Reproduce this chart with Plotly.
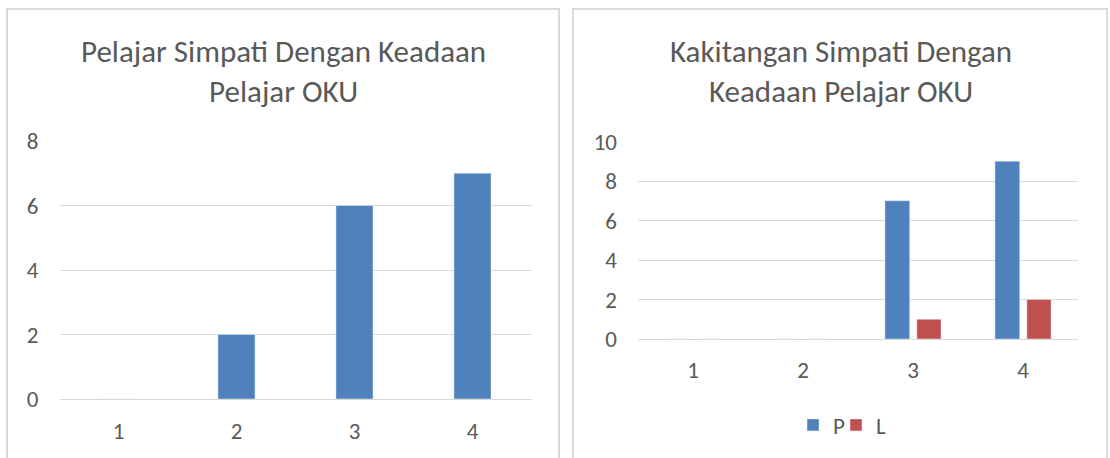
import plotly.graph_objects as go

categories = ["1", "2", "3", "4"]
pelajar_values = [0, 2, 6, 7]
kakitangan_P = [0, 0, 7, 9]
kakitangan_L = [0, 0, 1, 2]
series_names = ["P", "L"]
title_left = "Pelajar Simpati Dengan Keadaan<br>Pelajar OKU"
title_right = "Kakitangan Simpati Dengan<br>Keadaan Pelajar OKU"

W, H = 1110, 458
BLUE = "#4F81BD"
RED = "#C0504D"
TXT = "#595959"
GRID = "#D9D9D9"
FONT = "Carlito, Calibri, 'Open Sans', sans-serif"

def px(x):
    return x / W

def py(y):
    return 1 - y / H

fig = go.Figure()
fig.add_trace(go.Bar(x=categories, y=pelajar_values, marker_color=BLUE,
                     width=0.314, showlegend=False, xaxis="x", yaxis="y"))
fig.add_trace(go.Bar(x=categories, y=kakitangan_P, name=series_names[0], marker_color=BLUE,
                     width=0.225, offset=-0.255, xaxis="x2", yaxis="y2", legend="legend"))
fig.add_trace(go.Bar(x=categories, y=kakitangan_L, name=series_names[1], marker_color=RED,
                     width=0.22, offset=0.035, xaxis="x2", yaxis="y2", legend="legend2"))

axis_common = dict(showline=False, ticks="", tickfont=dict(family=FONT, size=23, color=TXT))
legend_common = dict(orientation="h", xanchor="left", y=py(425), yanchor="middle",
                     font=dict(family=FONT, size=23, color=TXT), itemwidth=30,
                     bgcolor="rgba(0,0,0,0)", borderwidth=0)
fig.update_layout(
    width=W, height=H,
    margin=dict(l=0, r=0, t=0, b=0, autoexpand=False),
    paper_bgcolor="white", plot_bgcolor="white",
    font=dict(family=FONT, color=TXT),
    xaxis=dict(domain=[px(59.5), px(531.5)], type="category", range=[-0.5, 3.5],
               showgrid=False, zeroline=False, ticklabelstandoff=16, anchor="y", **axis_common),
    yaxis=dict(domain=[py(399), py(141)], range=[0, 8], dtick=2, showgrid=True,
               gridcolor=GRID, gridwidth=1, zeroline=True, zerolinecolor=GRID, zerolinewidth=1,
               ticklabelstandoff=20, anchor="x", **axis_common),
    xaxis2=dict(domain=[px(638), px(1078)], type="category", range=[-0.5, 3.5],
                showgrid=False, zeroline=False, ticklabelstandoff=15, anchor="y2", **axis_common),
    yaxis2=dict(domain=[py(339), py(141.5)], range=[0, 10], dtick=2, showgrid=True,
                gridcolor=GRID, gridwidth=1, zeroline=True, zerolinecolor=GRID, zerolinewidth=1,
                ticklabelstandoff=20, anchor="x2", **axis_common),
    legend=dict(x=px(793), **legend_common),
    legend2=dict(x=px(836), **legend_common),
    showlegend=True,
)

fig.add_annotation(text=title_left, x=px(283), y=py(71), xref="paper", yref="paper",
                   showarrow=False, xanchor="center", yanchor="middle",
                   font=dict(family=FONT, size=31, color=TXT))
fig.add_annotation(text=title_right, x=px(841), y=py(71), xref="paper", yref="paper",
                   showarrow=False, xanchor="center", yanchor="middle",
                   font=dict(family=FONT, size=31, color=TXT))

fig.add_shape(type="rect", xref="paper", yref="paper", x0=px(7), x1=px(559),
              y0=-0.05, y1=py(9), line=dict(color=GRID, width=2), layer="below")
fig.add_shape(type="rect", xref="paper", yref="paper", x0=px(573), x1=px(1107),
              y0=-0.05, y1=py(9), line=dict(color=GRID, width=2), layer="below")

fig.write_html("out.html", config={"displayModeBar": False},
               post_script="document.body.style.margin='0';document.body.style.overflow='hidden';")
